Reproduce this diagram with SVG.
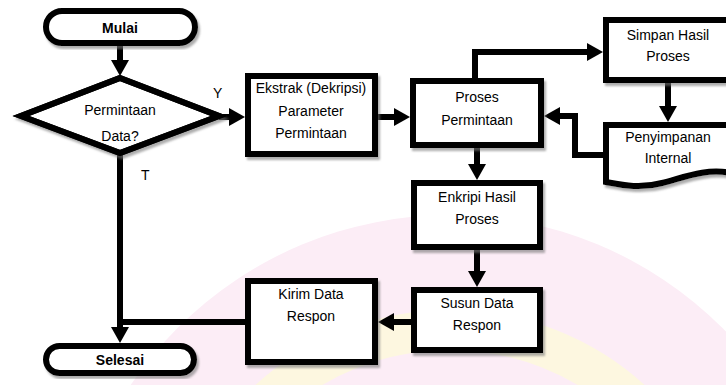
<svg xmlns="http://www.w3.org/2000/svg" width="726" height="385" viewBox="0 0 726 385">
<defs>
<marker id="ah" markerUnits="userSpaceOnUse" markerWidth="16" markerHeight="18" viewBox="0 0 16 18" refX="4" refY="9" orient="auto">
<path d="M0,0 L16,9 L0,18 z" fill="#000"/>
</marker>
<filter id="sh" x="-10%" y="-10%" width="130%" height="130%">
<feDropShadow dx="2" dy="3" stdDeviation="1" flood-color="#777" flood-opacity="0.6"/>
</filter>
</defs>
<style>
.shape{fill:#fff;stroke:#000;stroke-width:6;stroke-linejoin:miter}
.noFill{fill:none;stroke:#000;stroke-width:6}
.conn{fill:none;stroke:#000;stroke-width:6;stroke-linejoin:miter}
.t{font-family:"Liberation Sans",Arial,sans-serif;font-size:14px;fill:#000;text-anchor:middle}
.b{font-weight:bold}
.lbl{font-family:"Liberation Sans",Arial,sans-serif;font-size:14px;fill:#000}
</style>
<rect width="726" height="385" fill="#fff"/>
<g id="watermark">
<circle cx="450" cy="600" r="385" fill="#fcedf6"/>
<circle cx="450" cy="600" r="270" fill="none" stroke="#fdf7e0" stroke-width="40"/>
</g>
<g id="connectors">
<line class="conn" x1="120" y1="46" x2="120" y2="64" marker-end="url(#ah)"/>
<line class="conn" x1="219" y1="117" x2="233" y2="117" marker-end="url(#ah)"/>
<line class="conn" x1="378" y1="117" x2="398" y2="117" marker-end="url(#ah)"/>
<polyline class="conn" points="475,80 475,52 591,52" marker-end="url(#ah)"/>
<line class="conn" x1="668" y1="83" x2="668" y2="110" marker-end="url(#ah)"/>
<polyline class="conn" points="606,155 575,155 575,116 556,116" marker-end="url(#ah)"/>
<line class="conn" x1="477" y1="148" x2="477" y2="168" marker-end="url(#ah)"/>
<line class="conn" x1="477" y1="250" x2="477" y2="275" marker-end="url(#ah)"/>
<line class="conn" x1="411" y1="322" x2="390" y2="322" marker-end="url(#ah)"/>
<polyline class="conn" points="245,322 120,322"/>
<line class="conn" x1="120" y1="150" x2="120" y2="331" marker-end="url(#ah)"/>
<text class="lbl" x="213" y="98">Y</text>
<text class="lbl" x="141" y="180">T</text>
</g>
<g id="mulai">
<rect class="shape" x="46" y="11" width="149" height="32" rx="16" filter="url(#sh)"/>
<text class="t b" x="120" y="33">Mulai</text>
</g>
<g id="permintaan-data">
<polygon class="shape" points="120,78 219,116 120,153 21,116" filter="url(#sh)"/>
<text class="t" x="120" y="115">Permintaan</text>
<text class="t" x="120" y="141">Data?</text>
<polygon class="noFill" points="120,78 219,116 120,153 21,116"/>
</g>
<g id="ekstrak">
<rect class="shape" x="248" y="76" width="127" height="78" filter="url(#sh)"/>
<text class="t" x="311" y="93">Ekstrak (Dekripsi)</text>
<text class="t" x="311" y="116">Parameter</text>
<text class="t" x="311" y="138">Permintaan</text>
</g>
<g id="proses-permintaan">
<rect class="shape" x="413" y="81" width="128" height="64" filter="url(#sh)"/>
<text class="t" x="477" y="102">Proses</text>
<text class="t" x="477" y="125">Permintaan</text>
</g>
<g id="simpan-hasil">
<rect class="shape" x="606" y="20" width="126" height="60" filter="url(#sh)"/>
<text class="t" x="668" y="40">Simpan Hasil</text>
<text class="t" x="668" y="61">Proses</text>
</g>
<g id="penyimpanan-internal">
<path class="shape" d="M606,125 H732 V173 C705,168 685,177 662,183 C640,189 622,185 606,182 Z" filter="url(#sh)"/>
<text class="t" x="668" y="142">Penyimpanan</text>
<text class="t" x="668" y="163">Internal</text>
</g>
<g id="enkripi">
<rect class="shape" x="414" y="183" width="126" height="64" filter="url(#sh)"/>
<text class="t" x="477" y="202">Enkripi Hasil</text>
<text class="t" x="477" y="224">Proses</text>
</g>
<g id="susun">
<rect class="shape" x="414" y="290" width="126" height="60" filter="url(#sh)"/>
<text class="t" x="477" y="308">Susun Data</text>
<text class="t" x="477" y="330">Respon</text>
</g>
<g id="kirim">
<rect class="shape" x="248" y="281" width="127" height="81" filter="url(#sh)"/>
<text class="t" x="311" y="299">Kirim Data</text>
<text class="t" x="311" y="321">Respon</text>
</g>
<g id="selesai">
<rect class="shape" x="46" y="346" width="148" height="27" rx="13.5" filter="url(#sh)"/>
<text class="t b" x="120" y="365">Selesai</text>
</g>
</svg>
